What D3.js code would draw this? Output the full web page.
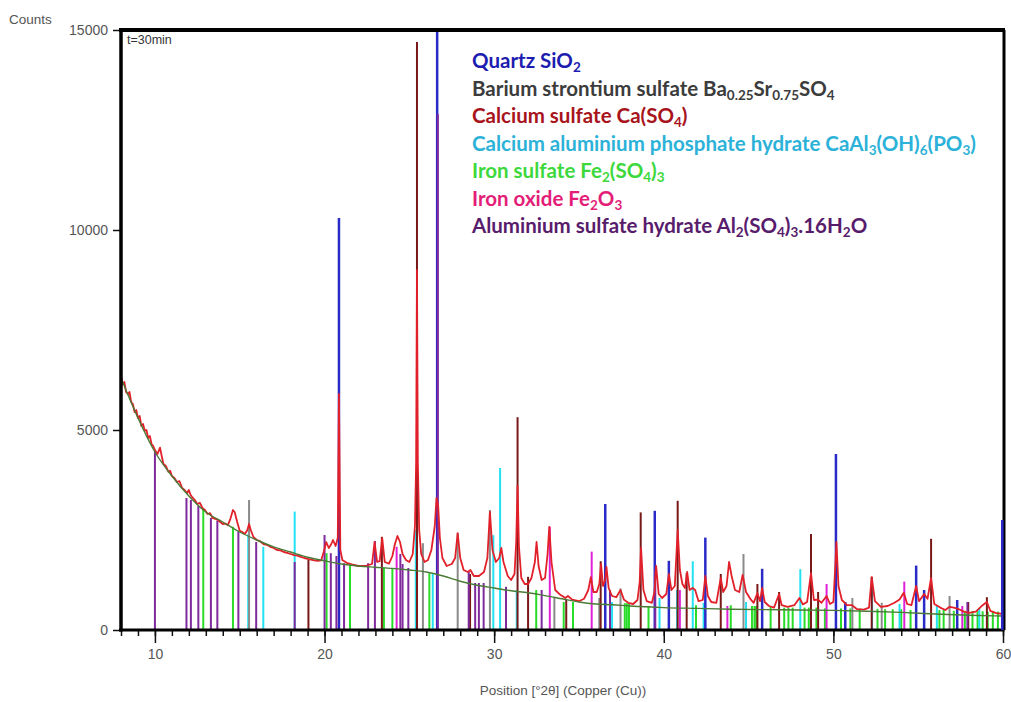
<!DOCTYPE html>
<html>
<head>
<meta charset="utf-8">
<script src="https://cdn.jsdelivr.net/npm/d3@7"></script>
<style>
  body { margin: 0; background: #fff; }
  text { font-family: "Liberation Sans", Arial, sans-serif; }
</style>
</head>
<body>
<div id="chart"></div>
<script>
//
// XRD pattern, t=30min, with reference sticks for the identified phases
//

////////////////////////////////////////////////////////////////////////
// Data

let yTicks = [0, 5000, 10000, 15000];
let xMajorTicks = [10, 20, 30, 40, 50, 60];
let xMinorTicks = d3.range(8, 61, 1);

// fitted background [2theta, counts]
let background = [
  [8, 6300], [9, 5300], [10, 4450], [11, 3850], [12, 3350], [13, 2950], [14, 2700],
  [15, 2450], [16, 2250], [17, 2080], [18, 1950], [19, 1820], [20, 1730], [21, 1650],
  [22, 1600], [23, 1570], [24, 1540], [25, 1500], [26, 1450], [27, 1350], [28, 1220],
  [29, 1120], [30, 1050], [31, 980], [32, 930], [33, 860], [34, 780], [35, 700],
  [36, 650], [37, 630], [38, 600], [39, 580], [40, 560], [42, 540], [44, 520],
  [46, 510], [48, 500], [50, 490], [52, 470], [54, 440], [56, 400], [58, 370], [60, 350]
];

// measured pattern [2theta, counts]
let measured = [
  [8.0, 6350], [8.1, 6150], [8.2, 6200], [8.3, 5950], [8.4, 5900], [8.5, 5950], [8.6, 5700],
  [8.7, 5650], [8.8, 5450], [8.9, 5500], [9.0, 5300], [9.1, 5350], [9.2, 5100], [9.3, 5150],
  [9.4, 4980], [9.5, 5000], [9.6, 4800], [9.7, 4850], [9.8, 4650], [9.9, 4600], [10.0, 4500],
  [10.15, 4400], [10.3, 4560], [10.4, 4350], [10.5, 4150], [10.65, 4100], [10.8, 3950],
  [10.9, 3980], [11.0, 3850], [11.15, 3800], [11.3, 3700], [11.45, 3720], [11.6, 3550],
  [11.75, 3500], [11.9, 3420], [12.0, 3500], [12.1, 3380], [12.2, 3320], [12.35, 3250],
  [12.5, 3150], [12.65, 3180], [12.8, 3050], [12.95, 3000], [13.1, 2900], [13.25, 2920],
  [13.4, 2800], [13.55, 2780], [13.7, 2750], [13.85, 2700], [14.0, 2650], [14.15, 2660],
  [14.3, 2620], [14.45, 2780], [14.6, 3000], [14.7, 2950], [14.85, 2700], [15.0, 2480],
  [15.15, 2450], [15.3, 2400], [15.45, 2500], [15.55, 2650], [15.65, 2500], [15.8, 2330],
  [16.0, 2250], [16.2, 2220], [16.4, 2150], [16.6, 2130], [16.8, 2080], [17.0, 2050],
  [17.2, 2000], [17.4, 1990], [17.6, 1950], [17.8, 1930], [18.0, 1900], [18.2, 1870],
  [18.4, 1860], [18.6, 1830], [18.8, 1800], [19.0, 1780], [19.2, 1760], [19.4, 1740],
  [19.6, 1730], [19.8, 1740], [19.95, 1950], [20.1, 2200], [20.25, 2050], [20.4, 2150],
  [20.5, 2250], [20.65, 2100], [20.78, 2300], [20.85, 5900], [20.93, 2000], [21.05, 1750],
  [21.3, 1680], [21.6, 1640], [22.0, 1600], [22.4, 1600], [22.8, 1650], [22.95, 2200],
  [23.1, 1700], [23.25, 1720], [23.4, 2300], [23.55, 1700], [23.8, 1660], [24.0, 1850],
  [24.15, 2150], [24.3, 2350], [24.45, 2200], [24.6, 1900], [24.8, 1750], [25.0, 1700],
  [25.2, 1900], [25.33, 2600], [25.4, 4200], [25.45, 9000], [25.5, 4200], [25.58, 2500],
  [25.7, 1900], [25.9, 1700], [26.1, 1750], [26.3, 2000], [26.5, 2600], [26.6, 3300],
  [26.7, 3100], [26.8, 2300], [26.95, 1800], [27.2, 1600], [27.5, 1650], [27.7, 1800],
  [27.85, 2420], [28.0, 1800], [28.2, 1500], [28.45, 1450], [28.6, 1500], [28.8, 1350],
  [29.1, 1350], [29.4, 1450], [29.6, 1800], [29.75, 2950], [29.9, 2000], [30.1, 1700],
  [30.3, 1800], [30.42, 2050], [30.55, 1700], [30.8, 1350], [31.0, 1250], [31.2, 1400],
  [31.3, 2200], [31.38, 3600], [31.46, 2100], [31.6, 1300], [31.8, 1150], [32.0, 1150],
  [32.2, 1300], [32.4, 1700], [32.5, 2200], [32.62, 1600], [32.8, 1250], [33.0, 1300],
  [33.15, 1900], [33.25, 2580], [33.38, 1700], [33.6, 1000], [33.9, 880], [34.2, 800],
  [34.35, 850], [34.6, 760], [35.0, 720], [35.3, 780], [35.55, 1000], [35.7, 1320],
  [35.85, 950], [36.05, 950], [36.2, 1150], [36.3, 1650], [36.42, 1100], [36.55, 1250],
  [36.62, 1580], [36.75, 1050], [36.95, 850], [37.2, 820], [37.45, 1000], [37.65, 760],
  [37.9, 680], [38.2, 650], [38.45, 750], [38.58, 1200], [38.66, 2050], [38.8, 1000],
  [39.0, 720], [39.3, 680], [39.45, 950], [39.55, 1600], [39.7, 900], [39.9, 800],
  [40.15, 900], [40.3, 1400], [40.45, 1000], [40.65, 1100], [40.82, 2500], [40.95, 1500],
  [41.1, 1150], [41.25, 1050], [41.38, 1450], [41.52, 1000], [41.7, 1050], [41.85, 1000],
  [42.05, 720], [42.3, 750], [42.45, 1350], [42.6, 850], [42.8, 700], [43.1, 680],
  [43.36, 1300], [43.5, 950], [43.7, 1100], [43.85, 1700], [44.0, 1350], [44.2, 1000],
  [44.45, 950], [44.65, 1380], [44.85, 950], [45.1, 780], [45.3, 680], [45.52, 920],
  [45.68, 720], [45.8, 1050], [45.95, 700], [46.2, 600], [46.5, 560], [46.8, 900],
  [46.95, 620], [47.3, 580], [47.7, 620], [48.0, 800], [48.2, 640], [48.45, 700],
  [48.68, 1420], [48.85, 750], [49.1, 760], [49.3, 680], [49.6, 850], [49.8, 650],
  [50.0, 700], [50.1, 1500], [50.18, 2200], [50.3, 1100], [50.5, 750], [50.8, 620],
  [51.1, 620], [51.4, 520], [51.8, 510], [52.1, 560], [52.26, 1320], [52.45, 720],
  [52.8, 580], [53.2, 600], [53.6, 680], [53.9, 760], [54.15, 930], [54.35, 650],
  [54.6, 620], [54.88, 1100], [55.05, 720], [55.35, 900], [55.55, 780], [55.76, 1300],
  [55.95, 650], [56.3, 560], [56.6, 500], [56.85, 580], [57.1, 560], [57.4, 520],
  [57.7, 460], [58.0, 430], [58.4, 460], [58.8, 620], [59.05, 700], [59.25, 480],
  [59.6, 420], [60.0, 400]
];

// reference sticks [2theta, counts] per phase
let quartzSticks = [
  [20.85, 10300], [26.64, 16500], [36.55, 3150], [39.47, 2980], [40.3, 1730],
  [42.45, 2310], [45.8, 1530], [50.15, 4400], [50.7, 700], [54.88, 1610],
  [55.35, 1000], [57.3, 750], [59.96, 2750]
];
let bariumSticks = [
  [15.55, 3250], [25.8, 2170], [27.85, 2420], [29.75, 3000], [33.55, 830],
  [36.2, 800], [37.45, 1040], [44.7, 1900], [51.12, 800], [52.85, 680], [56.85, 850]
];
let calciumSulfateSticks = [
  [19.05, 1750], [23.38, 2330], [25.45, 14700], [28.58, 1400], [31.38, 5320],
  [32.0, 1330], [34.25, 750], [36.28, 1720], [38.64, 2940], [40.82, 3230],
  [41.35, 1420], [43.36, 1400], [45.52, 1150], [46.8, 950], [48.68, 2400],
  [49.1, 950], [52.26, 1330], [55.76, 2280], [57.95, 700], [59.05, 820]
];
let phosphateSticks = [
  [15.5, 2400], [16.39, 2080], [18.24, 2960], [25.38, 2500], [26.38, 1420],
  [29.95, 2370], [30.35, 4050], [31.33, 1000], [36.95, 700], [39.75, 800],
  [40.78, 1000], [41.71, 1720], [42.35, 680], [44.85, 700], [48.05, 1520],
  [52.28, 1180], [53.9, 650], [56.1, 600], [58.6, 550]
];
let ironSulfateSticks = [
  [12.85, 3000], [14.6, 2580], [20.12, 1920], [21.5, 1625], [23.5, 1550], [24.0, 1550],
  [26.18, 1420], [32.48, 1000], [34.1, 700], [34.65, 700], [37.7, 670], [37.82, 670],
  [37.95, 670], [39.1, 600], [41.9, 620], [43.95, 620], [45.2, 600], [45.35, 600],
  [45.45, 600], [46.3, 580], [47.1, 560], [47.35, 560], [47.6, 560], [48.3, 560],
  [48.55, 560], [49.0, 560], [49.5, 540], [50.45, 540], [51.0, 540], [51.55, 540],
  [52.6, 530], [53.05, 520], [53.5, 520], [54.0, 520], [54.55, 500], [56.25, 500],
  [56.5, 500], [57.1, 480], [57.75, 480], [58.2, 470], [58.5, 470], [58.8, 470],
  [59.1, 460], [59.4, 460], [59.7, 460]
];
let ironOxideSticks = [
  [24.25, 2080], [33.28, 2580], [35.75, 1960], [40.95, 1000], [43.75, 600],
  [49.6, 1150], [54.18, 1210], [57.6, 600]
];
let alSulfateSticks = [
  [10.0, 4460], [11.86, 3300], [12.12, 3250], [12.56, 3100], [13.3, 2800], [13.68, 2730],
  [14.92, 2460], [15.97, 2200], [18.24, 1700], [20.0, 2375], [20.37, 1920], [20.7, 1850],
  [21.15, 1670], [22.57, 1670], [22.97, 2225], [24.47, 1900], [24.6, 1650], [24.94, 1550],
  [26.68, 12900], [28.5, 1450], [28.88, 1175], [29.1, 1175], [29.38, 1175], [30.7, 1080],
  [32.8, 1000], [36.83, 1000], [39.5, 1500], [57.9, 700]
];

// legend text, split into [text, isSubscript]
let legendLabels = [
  [["Quartz SiO", 0], ["2", 1]],
  [["Barium strontium sulfate Ba", 0], ["0.25", 1], ["Sr", 0], ["0.75", 1], ["SO", 0], ["4", 1]],
  [["Calcium sulfate Ca(SO", 0], ["4", 1], [")", 0]],
  [["Calcium aluminium phosphate hydrate CaAl", 0], ["3", 1], ["(OH)", 0], ["6", 1], ["(PO", 0], ["3", 1], [")", 0]],
  [["Iron sulfate Fe", 0], ["2", 1], ["(SO", 0], ["4", 1], [")", 0], ["3", 1]],
  [["Iron oxide Fe", 0], ["2", 1], ["O", 0], ["3", 1]],
  [["Aluminium sulfate hydrate Al", 0], ["2", 1], ["(SO", 0], ["4", 1], [")", 0], ["3", 1], [".16H", 0], ["2", 1], ["O", 0]]
];
let legendColors = ["#1c1cb0", "#3c3c3c", "#a8141c", "#2cb2d8", "#3cd83c", "#e41e78", "#581c6c"];

////////////////////////////////////////////////////////////////////////
// Layout and scales

let svgWidth = 1011, svgHeight = 702;
let plotLeft = 121, plotRight = 1003, plotTop = 30, plotBottom = 630;

let xScale = d3.scaleLinear().domain([8, 60]).range([plotLeft, plotRight]);
let yScale = d3.scaleLinear().domain([0, 15000]).range([plotBottom, plotTop]);

let svg = d3.select("#chart")
  .append("svg")
  .attr("width", svgWidth)
  .attr("height", svgHeight);

svg.append("defs").append("clipPath")
  .attr("id", "plotClip")
  .append("rect")
  .attr("x", plotLeft)
  .attr("y", plotTop)
  .attr("width", plotRight - plotLeft)
  .attr("height", plotBottom - plotTop);

let plot = svg.append("g").attr("clip-path", "url(#plotClip)");

////////////////////////////////////////////////////////////////////////
// Reference sticks (drawing order matters where they overlap)

let stickLayers = [
  { sticks: ironSulfateSticks,    color: "#28dc28", width: 2 },
  { sticks: phosphateSticks,      color: "#22e2f2", width: 2 },
  { sticks: bariumSticks,         color: "#8a8a8a", width: 2 },
  { sticks: ironOxideSticks,      color: "#e020d8", width: 2 },
  { sticks: calciumSulfateSticks, color: "#781818", width: 2 },
  { sticks: quartzSticks,         color: "#2a2ac8", width: 2.5 },
  { sticks: alSulfateSticks,      color: "#7e2a9c", width: 2 }
];

stickLayers.forEach(function(layer) {
  plot.append("g")
    .selectAll("line")
    .data(layer.sticks)
    .enter()
    .append("line")
    .attr("x1", function(d) { return xScale(d[0]); })
    .attr("x2", function(d) { return xScale(d[0]); })
    .attr("y1", yScale(0))
    .attr("y2", function(d) { return yScale(d[1]); })
    .attr("stroke", layer.color)
    .attr("stroke-width", layer.width);
});

////////////////////////////////////////////////////////////////////////
// Measured pattern and background

let line = d3.line()
  .x(function(d) { return xScale(d[0]); })
  .y(function(d) { return yScale(d[1]); });

plot.append("path")
  .datum(measured)
  .attr("d", line)
  .attr("fill", "none")
  .attr("stroke", "#e2202a")
  .attr("stroke-width", 1.8)
  .attr("stroke-linejoin", "round");

plot.append("path")
  .datum(background)
  .attr("d", line.curve(d3.curveMonotoneX))
  .attr("fill", "none")
  .attr("stroke", "#4a7a36")
  .attr("stroke-width", 1.4);

////////////////////////////////////////////////////////////////////////
// Axes and frame

let xMinor = svg.append("g")
  .attr("transform", "translate(0," + plotBottom + ")")
  .call(d3.axisBottom(xScale).tickValues(xMinorTicks).tickSize(6).tickFormat(""));
let xMajor = svg.append("g")
  .attr("transform", "translate(0," + plotBottom + ")")
  .call(d3.axisBottom(xScale).tickValues(xMajorTicks).tickSize(13).tickPadding(6).tickFormat(d3.format("d")));
let yAxis = svg.append("g")
  .attr("transform", "translate(" + plotLeft + ",0)")
  .call(d3.axisLeft(yScale).tickValues(yTicks).tickSize(8).tickPadding(5).tickFormat(d3.format("d")));

[xMinor, xMajor, yAxis].forEach(function(g) {
  g.select(".domain").remove();
  g.selectAll(".tick line").attr("stroke", "#111").attr("stroke-width", 1.5);
  g.selectAll(".tick text")
    .attr("fill", "#555")
    .style("font-size", "14px")
    .style("font-family", "'Liberation Sans', Arial, sans-serif");
});

// frame: thick axis lines
svg.append("line")
  .attr("x1", plotLeft).attr("x2", plotLeft)
  .attr("y1", plotTop - 2).attr("y2", plotBottom + 1.5)
  .attr("stroke", "#000").attr("stroke-width", 3.5);
svg.append("line")
  .attr("x1", plotLeft - 2).attr("x2", plotRight + 1.5)
  .attr("y1", plotBottom).attr("y2", plotBottom)
  .attr("stroke", "#000").attr("stroke-width", 3);
svg.append("line")
  .attr("x1", plotLeft - 2).attr("x2", plotRight + 2)
  .attr("y1", plotTop).attr("y2", plotTop)
  .attr("stroke", "#000").attr("stroke-width", 4);
svg.append("line")
  .attr("x1", plotRight + 1).attr("x2", plotRight + 1)
  .attr("y1", plotTop).attr("y2", plotBottom)
  .attr("stroke", "#000").attr("stroke-width", 3);

// redraw the quartz stick at 60 over the right border, as in the original
svg.append("line")
  .datum(quartzSticks[quartzSticks.length - 1])
  .attr("x1", function(d) { return xScale(d[0]); })
  .attr("x2", function(d) { return xScale(d[0]); })
  .attr("y1", yScale(0))
  .attr("y2", function(d) { return yScale(d[1]); })
  .attr("stroke", "#2a2ac8")
  .attr("stroke-width", 2.5);

////////////////////////////////////////////////////////////////////////
// Texts

svg.append("text")
  .attr("x", 9).attr("y", 24)
  .attr("fill", "#555")
  .style("font-size", "13.5px")
  .text("Counts");

svg.append("text")
  .attr("x", 127).attr("y", 44)
  .attr("fill", "#333")
  .style("font-size", "12.5px")
  .text("t=30min");

svg.append("text")
  .attr("x", 563).attr("y", 695)
  .attr("text-anchor", "middle")
  .attr("fill", "#555")
  .style("font-size", "13.5px")
  .text("Position [°2θ] (Copper (Cu))");

// legend
let legend = svg.append("g")
  .attr("transform", "translate(472,0)");

legendLabels.forEach(function(parts, i) {
  let t = legend.append("text")
    .attr("x", 0)
    .attr("y", 68 + i * 27.5)
    .attr("fill", legendColors[i])
    .style("font-family", "Lato, 'Open Sans', sans-serif")
    .style("font-weight", "bold")
    .style("font-size", "20.5px");
  let wasSub = false;
  parts.forEach(function(p) {
    let span = t.append("tspan").text(p[0]);
    if (p[1]) {
      span.attr("dy", wasSub ? 0 : 4).style("font-size", "13.5px");
      wasSub = true;
    } else {
      span.attr("dy", wasSub ? -4 : 0);
      wasSub = false;
    }
  });
});
</script>
</body>
</html>
